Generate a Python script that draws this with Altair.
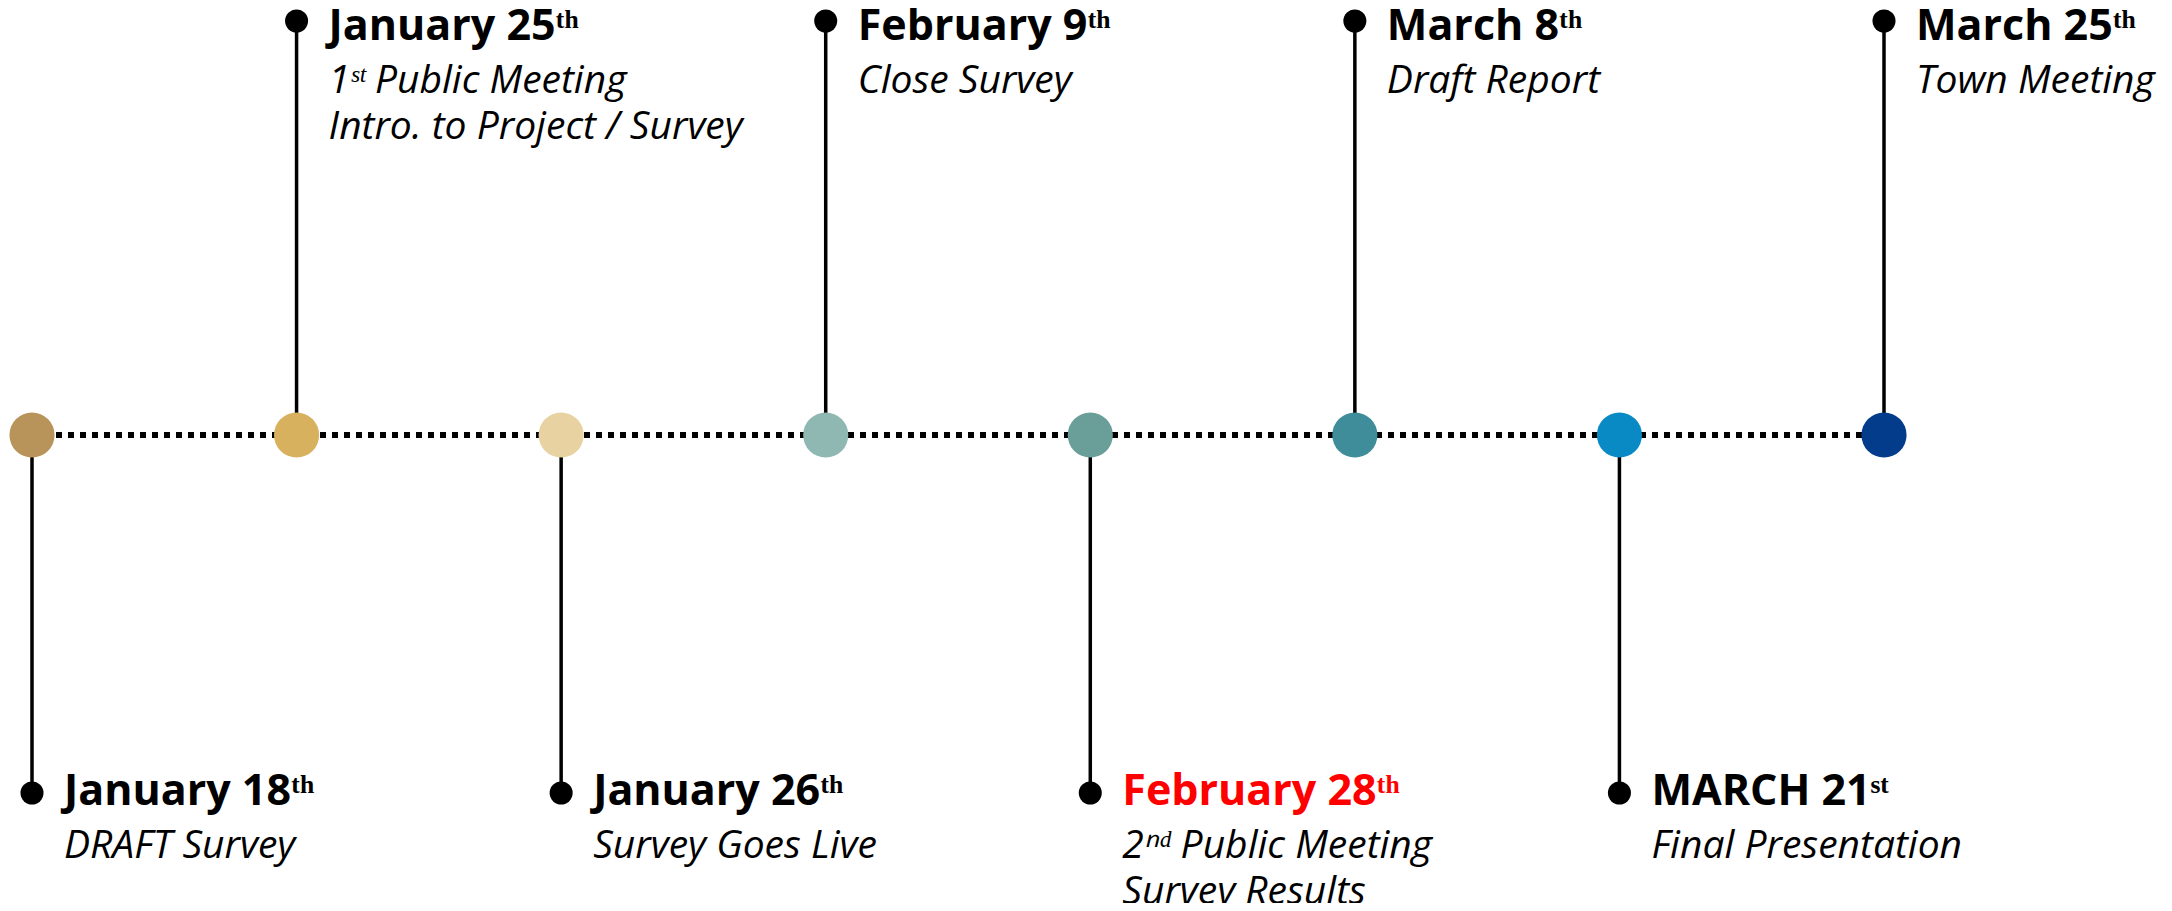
import altair as alt
import pandas as pd

# ---- data ----
dates = ["January 18", "January 25", "January 26", "February 9",
         "February 28", "March 8", "MARCH 21", "March 25"]
ordinal_suffix = ["th", "th", "th", "th", "th", "th", "st", "th"]
details = [
    "DRAFT Survey",
    "1\u02e2\u1d57 Public Meeting\nIntro. to Project / Survey",
    "Survey Goes Live",
    "Close Survey",
    "2\u207f\u1d48 Public Meeting\nSurvey Results",
    "Draft Report",
    "Final Presentation",
    "Town Meeting",
]
sides = [-1, 1, -1, 1, -1, 1, -1, 1]          # -1 = label below line, 1 = above
dot_colors = ["#B9945A", "#D8B15F", "#E8D2A2", "#8FB8B2",
              "#6A9E99", "#3F8C9A", "#0A8AC5", "#023C8B"]
highlight = [False, False, False, False, True, False, False, False]

sup = {"th": "\u1d57\u02b0", "st": "\u02e2\u1d57", "nd": "\u207f\u1d48"}

df = pd.DataFrame({
    "order": list(range(len(dates))),
    "title": [d + sup[s] for d, s in zip(dates, ordinal_suffix)],
    "detail": details,
    "side": sides,
    "base": [0] * len(dates),
    "color": dot_colors,
    "highlight": highlight,
})

W, H = 2156, 895
xs = alt.Scale(domain=[0, 7], range=[24, 1876])
ys = alt.Scale(domain=[-1, 0, 1], range=[785, 427, 13])

X = alt.X("order:Q", scale=xs, axis=None)

base = alt.Chart(df)

line = base.mark_line(color="black", strokeWidth=6, strokeDash=[6, 6],
                      strokeCap="butt").encode(
    x=X, y=alt.Y("base:Q", scale=ys, axis=None))

stems = base.mark_rule(color="black", strokeWidth=3.5).encode(
    x=X, y=alt.Y("side:Q", scale=ys, axis=None), y2="base:Q")

circles = base.mark_circle(size=2040, opacity=1).encode(
    x=X, y=alt.Y("base:Q", scale=ys, axis=None),
    color=alt.Color("color:N", scale=None))

dots = base.mark_circle(size=530, opacity=1, color="black").encode(
    x=X, y=alt.Y("side:Q", scale=ys, axis=None))

title_color = alt.condition("datum.highlight", alt.value("#FF0000"), alt.value("black"))

def titles(side_val, dy):
    return base.transform_filter(f"datum.side == {side_val}").mark_text(
        align="left", baseline="alphabetic", dx=32, dy=dy,
        font="Open Sans", fontWeight="bold", fontSize=43).encode(
        x=X, y=alt.Y("side:Q", scale=ys, axis=None),
        text="title:N", color=title_color)

def subs(side_val, dy):
    return base.transform_filter(f"datum.side == {side_val}").mark_text(
        align="left", baseline="alphabetic", dx=32, dy=dy,
        font="Open Sans", fontStyle="italic", fontSize=39, lineBreak="\n",
        lineHeight=46, color="black").encode(
        x=X, y=alt.Y("side:Q", scale=ys, axis=None),
        text="detail:N")

chart = alt.layer(
    line, stems, circles, dots,
    titles(1, 19), titles(-1, 12), subs(1, 72), subs(-1, 65),
).properties(
    width=W, height=H,
    autosize=alt.AutoSizeParams(type="none"),
    padding=0,
).configure_view(stroke=None)

chart.save("out.html", embed_options={"renderer": "svg", "actions": False})
